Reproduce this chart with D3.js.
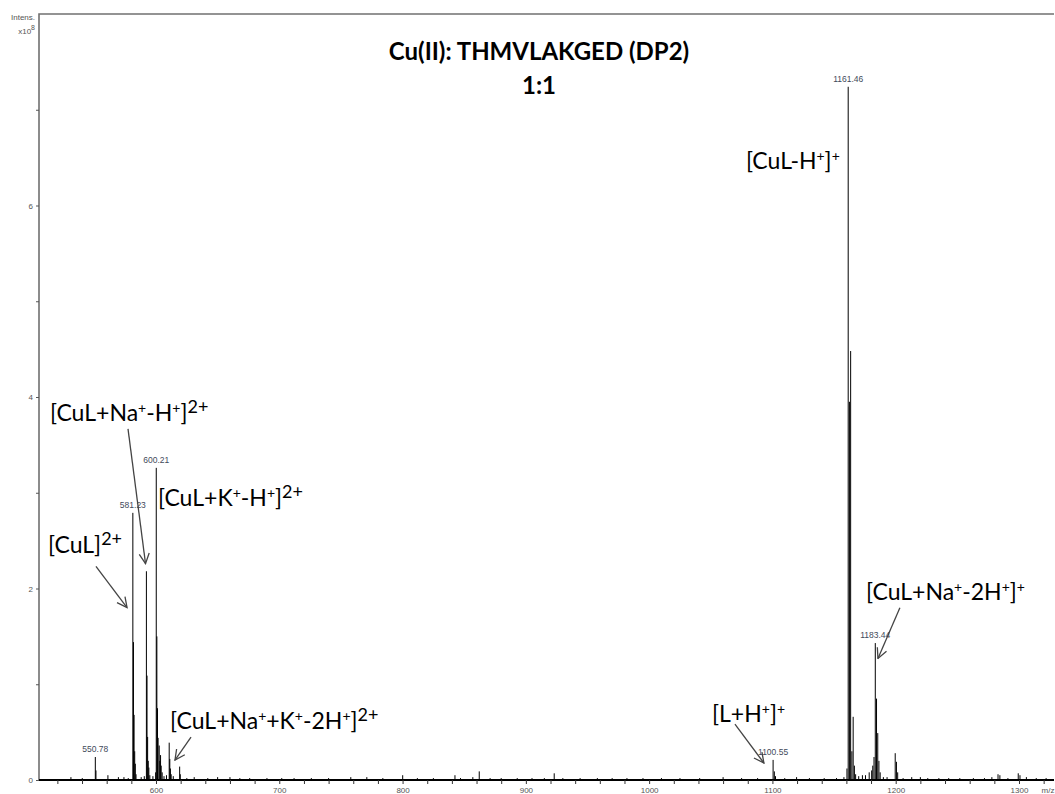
<!DOCTYPE html>
<html>
<head>
<meta charset="utf-8">
<script src="https://cdn.jsdelivr.net/npm/d3@7"></script>
<style>
  body { margin: 0; background: #fff; }
  svg { display: block; font-family: "Liberation Sans", Arial, sans-serif; }
  .anno { font-family: Lato, "Open Sans", sans-serif; font-size: 23px; fill: #000; }
  .title { font-family: Lato, "Open Sans", sans-serif; font-size: 24px; font-weight: bold; }
  .tick text { fill: #555; font-size: 8px; }
</style>
</head>
<body>
<svg id="chart" width="1055" height="794"></svg>
<script>
(function () {

  'use strict';

  // ----------- DATA (m/z, intensity in 1e8) --------------

  var peakMz = [
    531.0, 540.2, 550.78, 551.3, 561.0, 569.5, 574.0, 577.5,
    581.23, 581.73, 582.23, 582.73, 583.23, 583.8, 588.0, 590.5,
    592.22, 592.72, 593.22, 593.72, 594.22, 595.0, 597.5, 599.7,
    600.21, 600.71, 601.21, 601.71, 602.6, 603.1, 603.7, 604.2, 605.0, 606.5, 608.5,
    610.7, 611.2, 611.7, 612.3, 614.0, 619.2, 619.7,
    625, 631, 642, 650, 660, 668, 676, 690, 702, 712, 726, 740, 758, 771, 784,
    800.1, 812, 825, 842.5, 847, 857, 862.2, 871, 880, 893, 905, 915, 923, 930,
    944, 958, 970, 982, 995, 1010, 1025, 1041, 1060, 1075, 1088,
    1100.55, 1101.55, 1102.5, 1110, 1119.6, 1130, 1142, 1152, 1158,
    1160.46, 1161.46, 1162.46, 1163.46, 1164.46, 1165.5, 1166.5, 1167.5,
    1170, 1173, 1175.5, 1178.5, 1180.5, 1181.4, 1182.4,
    1183.44, 1184.44, 1185.44, 1186.4, 1187.4, 1190, 1193,
    1199.6, 1200.6, 1201.6, 1206, 1213, 1220, 1226, 1235, 1243, 1252, 1263, 1272,
    1278, 1283, 1284.5, 1291, 1299.4, 1300.8, 1306, 1314, 1322
  ];
  var peakInt = [
    0.03, 0.02, 0.24, 0.10, 0.05, 0.03, 0.03, 0.02,
    2.79, 1.44, 0.68, 0.30, 0.17, 0.06, 0.03, 0.04,
    2.18, 1.09, 0.45, 0.20, 0.13, 0.05, 0.04, 0.08,
    3.26, 1.50, 0.75, 0.44, 0.36, 0.20, 0.26, 0.15, 0.08, 0.04, 0.05,
    0.39, 0.22, 0.12, 0.06, 0.04, 0.14, 0.06,
    0.02, 0.03, 0.02, 0.03, 0.03, 0.02, 0.02, 0.02, 0.02, 0.02, 0.02, 0.02, 0.03, 0.03, 0.02,
    0.05, 0.02, 0.02, 0.05, 0.02, 0.03, 0.09, 0.02, 0.02, 0.02, 0.02, 0.02, 0.07, 0.02,
    0.02, 0.02, 0.02, 0.02, 0.02, 0.02, 0.02, 0.02, 0.03, 0.02, 0.02,
    0.21, 0.09, 0.04, 0.02, 0.03, 0.02, 0.02, 0.02, 0.03,
    0.12, 7.24, 3.95, 4.48, 0.30, 0.66, 0.15, 0.06,
    0.04, 0.05, 0.05, 0.08, 0.10, 0.15, 0.24,
    1.43, 0.85, 0.49, 0.20, 0.08, 0.03, 0.03,
    0.28, 0.19, 0.08, 0.02, 0.03, 0.03, 0.02, 0.02, 0.02, 0.02, 0.02, 0.02,
    0.03, 0.06, 0.05, 0.02, 0.07, 0.05, 0.03, 0.02, 0.02
  ];

  var labelMz = [550.78, 581.23, 600.21, 1100.55, 1161.46, 1183.44];

  var xMinorTicks = d3.range(520, 1321, 20);
  var yTicks = [0, 1, 2, 3, 4, 5, 6, 7];
  var titleLines = ['Cu(II): THMVLAKGED (DP2)', '1:1'];

  // annotation text (^{..} = superscript), anchored at m/z, intensity
  var annoText = [
    '[CuL]^{2+}',
    '[CuL+Na^{+}-H^{+}]^{2+}',
    '[CuL+K^{+}-H^{+}]^{2+}',
    '[CuL+Na^{+}+K^{+}-2H^{+}]^{2+}',
    '[L+H^{+}]^{+}',
    '[CuL-H^{+}]^{+}',
    '[CuL+Na^{+}-2H^{+}]^{+}'
  ];
  var annoMz = [512.4, 514.0, 601.6, 611.4, 1051.0, 1078.5, 1175.9];
  var annoInt = [2.375, 3.75, 2.865, 0.53, 0.604, 6.385, 1.875];

  // arrows: [from m/z, from int, to m/z, to int]
  var arrows = [
    [551.3, 2.23, 576.5, 1.80],
    [577.3, 3.667, 591.5, 2.26],
    [628.4, 0.448, 615.4, 0.208],
    [1069.6, 0.583, 1093.1, 0.177],
    [1203.4, 1.80, 1185.6, 1.27]
  ];

  // ----------- LAYOUT --------------

  var svg = d3.select('#chart');
  var left = 39, right = 1054, top = 14, bottom = 780;

  var x = d3.scaleLinear().domain([505.1, 1328.4]).range([left, right]);
  var y = d3.scaleLinear().domain([0, 8]).range([bottom, top]);

  // frame (left + top)
  svg.append('path')
    .attr('d', 'M' + left + ',' + bottom + 'V' + top + 'H' + right)
    .attr('fill', 'none')
    .attr('stroke', '#707070')
    .attr('stroke-width', 1.6);

  // title
  titleLines.forEach(function (t, i) {
    svg.append('text')
      .attr('class', 'title')
      .attr('x', 539)
      .attr('y', 60 + i * 34)
      .attr('text-anchor', 'middle')
      .text(t);
  });

  // y axis
  var yAxis = svg.append('g')
    .attr('transform', 'translate(' + left + ',0)')
    .call(d3.axisLeft(y).tickValues(yTicks).tickSize(3).tickPadding(3)
      .tickFormat(function (d) { return d % 2 === 0 ? d : ''; }));
  yAxis.select('.domain').remove();
  yAxis.selectAll('.tick line').attr('stroke', '#555');

  svg.append('text').attr('x', 35).attr('y', 20).attr('text-anchor', 'end')
    .attr('font-size', 8).attr('fill', '#555').text('Intens.');
  var sci = svg.append('text').attr('x', 35).attr('y', 34).attr('text-anchor', 'end')
    .attr('font-size', 8).attr('fill', '#555');
  sci.append('tspan').text('x10');
  sci.append('tspan').attr('dy', -4).attr('font-size', 7).text('8');

  // spectrum
  svg.append('g')
    .selectAll('line')
    .data(peakMz)
    .enter()
    .append('line')
    .attr('x1', function (d) { return x(d); })
    .attr('x2', function (d) { return x(d); })
    .attr('y1', y(0))
    .attr('y2', function (d, i) { return y(peakInt[i]); })
    .attr('stroke', '#000')
    .attr('stroke-width', 1);

  // x axis
  var xAxis = svg.append('g')
    .attr('transform', 'translate(0,' + bottom + ')')
    .call(d3.axisBottom(x).tickValues(xMinorTicks).tickSize(4).tickPadding(3)
      .tickFormat(function (d) { return d % 100 === 0 ? d : ''; }));
  xAxis.select('.domain').attr('stroke', '#000').attr('stroke-width', 2)
    .attr('d', 'M' + left + ',0H' + right);
  xAxis.selectAll('.tick line').attr('stroke', '#333');
  svg.append('text').attr('x', 1048).attr('y', 793).attr('text-anchor', 'middle')
    .attr('font-size', 8).attr('fill', '#555').text('m/z');

  // peak labels
  svg.append('g')
    .selectAll('text')
    .data(labelMz)
    .enter()
    .append('text')
    .attr('x', function (d) { return x(d); })
    .attr('y', function (d) { return y(peakInt[peakMz.indexOf(d)]) - 5; })
    .attr('text-anchor', 'middle')
    .attr('font-size', 8.5)
    .attr('fill', '#3f4a5a')
    .text(function (d) { return d.toFixed(2); });

  // arrows
  var defs = svg.append('defs');
  defs.append('marker')
    .attr('id', 'head')
    .attr('viewBox', '0 0 12 12')
    .attr('refX', 11).attr('refY', 6)
    .attr('markerWidth', 12).attr('markerHeight', 12)
    .attr('markerUnits', 'userSpaceOnUse')
    .attr('orient', 'auto')
    .append('path')
    .attr('d', 'M1,1 L11,6 L1,11')
    .attr('fill', 'none')
    .attr('stroke', '#444')
    .attr('stroke-width', 1.3);

  svg.append('g')
    .selectAll('line')
    .data(arrows)
    .enter()
    .append('line')
    .attr('x1', function (d) { return x(d[0]); })
    .attr('y1', function (d) { return y(d[1]); })
    .attr('x2', function (d) { return x(d[2]); })
    .attr('y2', function (d) { return y(d[3]); })
    .attr('stroke', '#444')
    .attr('stroke-width', 1.3)
    .attr('marker-end', 'url(#head)');

  // annotation text with superscripts ("2+" drawn larger than lone "+")
  annoText.forEach(function (t, i) {
    var txt = svg.append('text')
      .attr('class', 'anno')
      .attr('x', x(annoMz[i]))
      .attr('y', y(annoInt[i]));
    var parts = t.split(/\^\{([^}]*)\}/);
    var raised = false;
    parts.forEach(function (p, j) {
      if (p === '') { return; }
      var isSup = j % 2 === 1;
      var ts = txt.append('tspan').text(p);
      if (isSup) {
        ts.attr('font-size', p.length > 1 ? 18 : 14).attr('dy', raised ? 0 : -8);
        raised = true;
      } else if (raised) {
        ts.attr('dy', 8);
        raised = false;
      }
    });
  });

})();
</script>
</body>
</html>
